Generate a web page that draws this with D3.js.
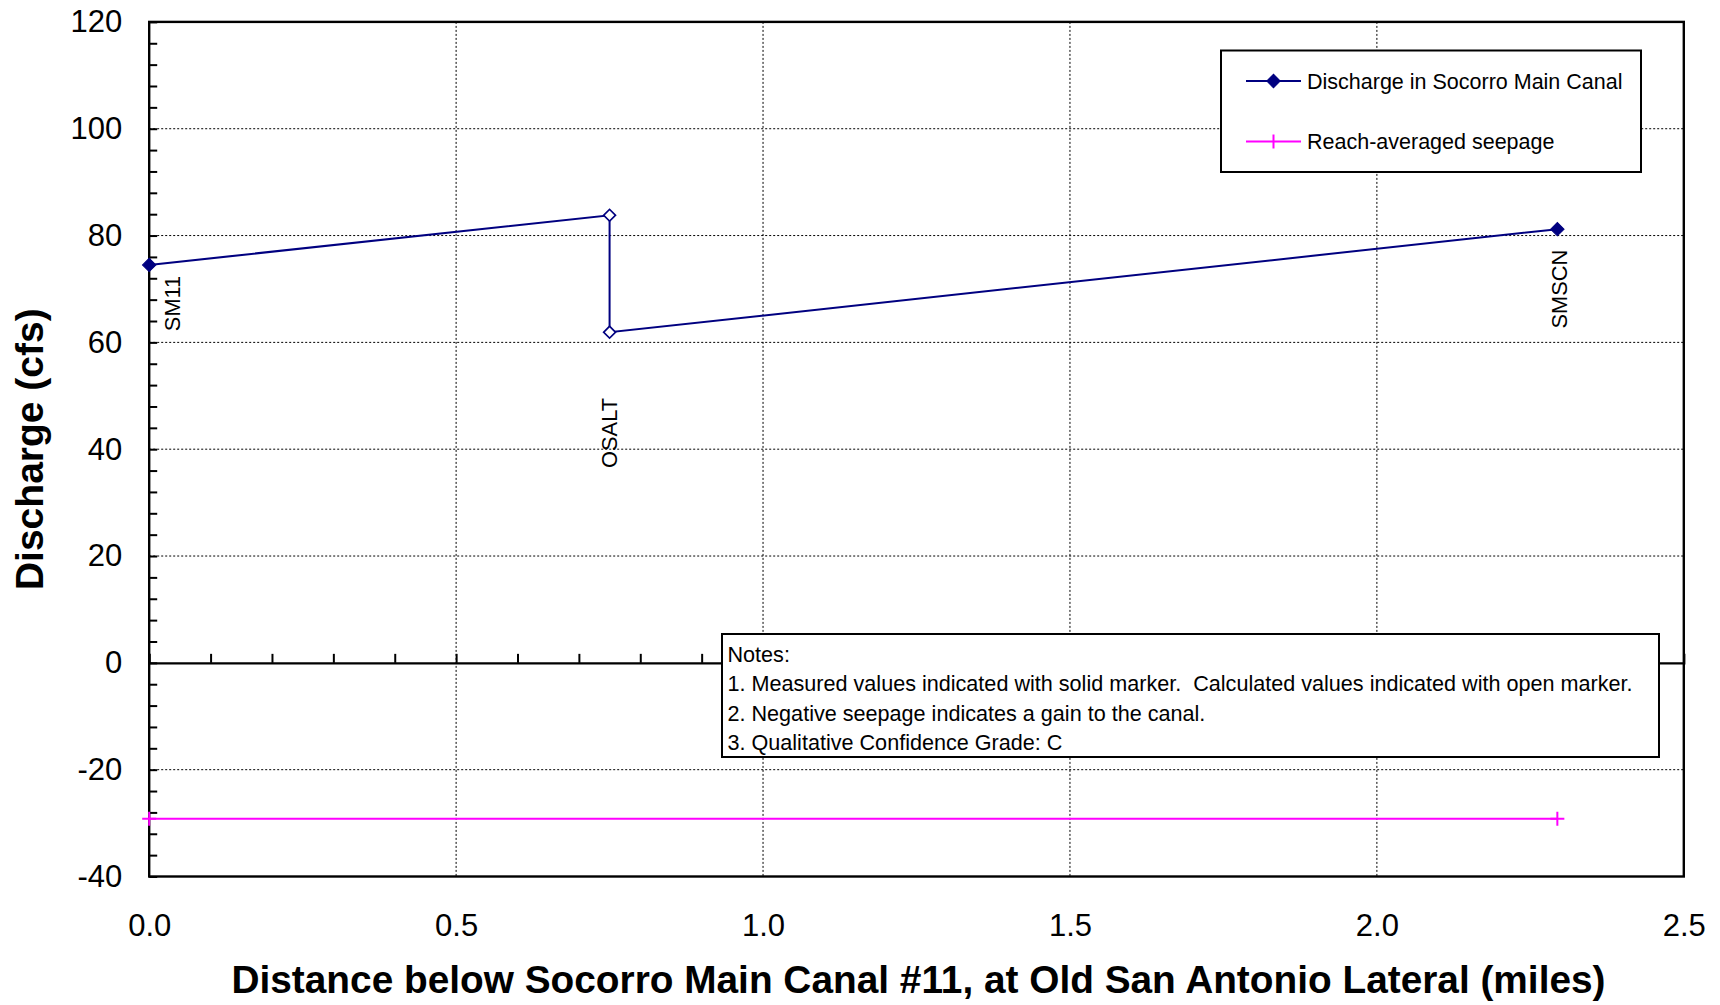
<!DOCTYPE html>
<html>
<head>
<meta charset="utf-8">
<script src="https://cdn.jsdelivr.net/npm/d3@7"></script>
<style>
  html, body { margin: 0; padding: 0; background: #fff; }
  svg { display: block; font-family: "Liberation Sans", Arial, sans-serif; }
  text { white-space: pre; }
</style>
</head>
<body>
<svg id="chart" width="1720" height="1005"></svg>
<script>
// ---- data ----
const stationNames = ["SM11", "OSALT", "OSALT", "SMSCN"];
const distanceMiles = [0, 0.75, 0.75, 2.294];
const dischargeCfs = [74.5, 83.8, 61.9, 81.2];
const isMeasured = [true, false, false, true];

const seepageDistance = [0, 2.294];
const seepageCfs = [-29.2, -29.2];

const labelNames = ["SM11", "OSALT", "SMSCN"];
const labelDistance = [0.038, 0.75, 2.297];
const labelValue = [62.1, 36.5, 62.6];

const xTickValues = [0, 0.5, 1.0, 1.5, 2.0, 2.5];
const yTickValues = [-40, -20, 0, 20, 40, 60, 80, 100, 120];

const legendLabels = ["Discharge in Socorro Main Canal", "Reach-averaged seepage"];
const notesLines = [
  "Notes:",
  "1. Measured values indicated with solid marker.  Calculated values indicated with open marker.",
  "2. Negative seepage indicates a gain to the canal.",
  "3. Qualitative Confidence Grade: C"
];
const xTitle = "Distance below Socorro Main Canal #11, at Old San Antonio Lateral (miles)";
const yTitle = "Discharge (cfs)";

// ---- layout ----
const L = 149.2, R = 1683.8, T = 21.9, B = 876.5;
const NAVY = "#000080", MAGENTA = "#FF00FF";

const svg = d3.select("#chart");
const x = d3.scaleLinear().domain([0, 2.5]).range([L, R]);
const y = d3.scaleLinear().domain([-40, 120]).range([B, T]);

// gridlines (dotted)
const grid = svg.append("g");
grid.selectAll("line.vg").data(xTickValues.filter(v => v > 0 && v < 2.5)).join("line")
  .attr("x1", d => x(d)).attr("x2", d => x(d)).attr("y1", T).attr("y2", B)
  .attr("stroke", "#000").attr("stroke-width", 1).attr("stroke-dasharray", "2,2");
grid.selectAll("line.hg").data(yTickValues.filter(v => v > -40 && v < 120 && v !== 0)).join("line")
  .attr("x1", L).attr("x2", R).attr("y1", d => y(d)).attr("y2", d => y(d))
  .attr("stroke", "#000").attr("stroke-width", 1).attr("stroke-dasharray", "2,2");

// y minor ticks inside
const yMinor = svg.append("g").attr("transform", `translate(${L},0)`)
  .call(d3.axisRight(y).tickValues(d3.range(-40, 121, 4)).tickSize(8).tickFormat(""));
yMinor.select(".domain").remove();
yMinor.selectAll("line").attr("stroke", "#000").attr("stroke-width", 2);

// y labels
const yAx = svg.append("g").attr("transform", `translate(${L},0)`)
  .call(d3.axisLeft(y).tickValues(yTickValues).tickSize(0).tickPadding(27).tickFormat(d => String(d)));
yAx.select(".domain").remove();
yAx.selectAll("text").attr("font-size", 31).attr("fill", "#000")
  .attr("font-family", "Liberation Sans, Arial, sans-serif");

// zero axis with upward ticks
const zAx = svg.append("g").attr("transform", `translate(0,${y(0)})`)
  .call(d3.axisTop(x).tickValues(d3.range(1, 25).map(i => i / 10)).tickSize(9).tickFormat(""));
zAx.select(".domain").attr("stroke", "#000").attr("stroke-width", 2.2);
zAx.selectAll("line").attr("stroke", "#000").attr("stroke-width", 2);

// x labels
const xAx = svg.append("g").attr("transform", `translate(0,${B})`)
  .call(d3.axisBottom(x).tickValues(xTickValues).tickSize(0).tickPadding(37).tickFormat(d3.format(".1f")));
xAx.select(".domain").remove();
xAx.selectAll("text").attr("font-size", 31).attr("fill", "#000")
  .attr("font-family", "Liberation Sans, Arial, sans-serif");

// frame
svg.append("rect").attr("x", L).attr("y", T).attr("width", R - L).attr("height", B - T)
  .attr("fill", "none").attr("stroke", "#000").attr("stroke-width", 2.4);

// titles
svg.append("text").attr("x", (L + R) / 2 + 2).attr("y", 993).attr("text-anchor", "middle")
  .attr("font-size", 38.8).attr("font-weight", "bold").text(xTitle);
svg.append("text").attr("transform", `translate(43,${(T + B) / 2}) rotate(-90)`)
  .attr("text-anchor", "middle").attr("font-size", 39).attr("font-weight", "bold").text(yTitle);

// seepage series
const seep = seepageDistance.map((d, i) => [d, seepageCfs[i]]);
svg.append("path").datum(seep)
  .attr("d", d3.line().x(d => x(d[0])).y(d => y(d[1])))
  .attr("fill", "none").attr("stroke", MAGENTA).attr("stroke-width", 2);
svg.selectAll("path.plus").data(seep).join("path")
  .attr("d", d => {
    const cx = x(d[0]), cy = y(d[1]);
    return `M${cx - 7},${cy}H${cx + 7}M${cx},${cy - 7}V${cy + 7}`;
  })
  .attr("stroke", MAGENTA).attr("stroke-width", 2).attr("fill", "none");

// discharge series
const dis = distanceMiles.map((d, i) => ({ x: d, y: dischargeCfs[i], m: isMeasured[i], n: stationNames[i] }));
svg.append("path").datum(dis)
  .attr("d", d3.line().x(d => x(d.x)).y(d => y(d.y)))
  .attr("fill", "none").attr("stroke", NAVY).attr("stroke-width", 2);
const diamond = d3.symbol().type(d3.symbolSquare).size(90);
const openDiamond = d3.symbol().type(d3.symbolSquare).size(70);
svg.selectAll("path.dm").data(dis).join("path")
  .attr("d", d => d.m ? diamond() : openDiamond())
  .attr("transform", d => `translate(${x(d.x)},${y(d.y)}) rotate(45)`)
  .attr("fill", d => d.m ? NAVY : "#fff")
  .attr("stroke", NAVY).attr("stroke-width", d => d.m ? 1 : 1.7);

// station labels
svg.selectAll("text.st").data(labelNames).join("text")
  .attr("transform", (d, i) => `translate(${x(labelDistance[i])},${y(labelValue[i])}) rotate(-90)`)
  .attr("dy", "0.35em").attr("font-size", 21.8).attr("fill", "#000").text(d => d);

// legend
const lg = svg.append("g");
lg.append("rect").attr("x", 1221).attr("y", 50.5).attr("width", 420).attr("height", 121.5)
  .attr("fill", "#fff").attr("stroke", "#000").attr("stroke-width", 2);
const legendRows = [81, 141.5];
legendLabels.forEach((t, i) => {
  const cy = legendRows[i];
  const col = i === 0 ? NAVY : MAGENTA;
  lg.append("line").attr("x1", 1246).attr("x2", 1301).attr("y1", cy).attr("y2", cy)
    .attr("stroke", col).attr("stroke-width", 2);
  if (i === 0) {
    lg.append("path").attr("d", diamond()).attr("transform", `translate(1273.5,${cy}) rotate(45)`)
      .attr("fill", NAVY).attr("stroke", NAVY);
  } else {
    lg.append("path").attr("d", `M1273.5,${cy - 7}V${cy + 7}`).attr("stroke", col).attr("stroke-width", 2);
  }
  lg.append("text").attr("x", 1307).attr("y", cy).attr("dy", "0.35em")
    .attr("font-size", 21.5).attr("fill", "#000").text(t);
});

// notes box
const nb = svg.append("g");
nb.append("rect").attr("x", 722).attr("y", 634).attr("width", 937).attr("height", 123)
  .attr("fill", "#fff").attr("stroke", "#000").attr("stroke-width", 2);
notesLines.forEach((t, i) => {
  nb.append("text").attr("x", 727.5).attr("y", 654 + i * 29.6).attr("dy", "0.35em")
    .attr("font-size", 21.6).attr("fill", "#000").text(t);
});
</script>
</body>
</html>
